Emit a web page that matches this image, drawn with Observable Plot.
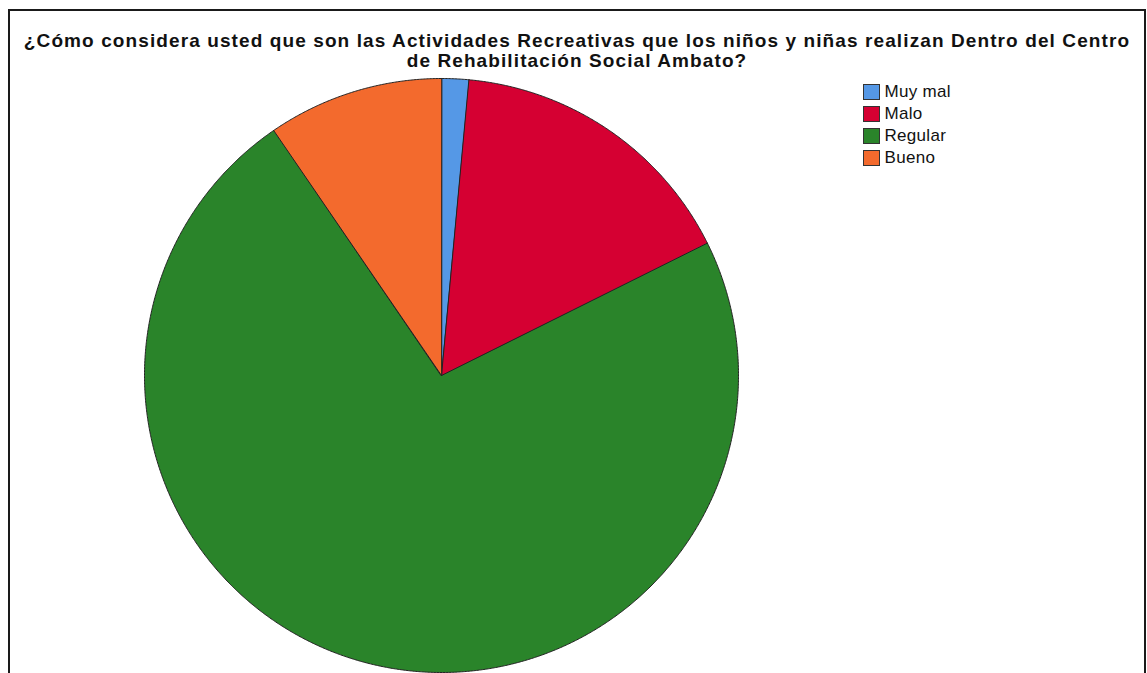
<!DOCTYPE html>
<html>
<head>
<meta charset="utf-8">
<script src="https://cdn.jsdelivr.net/npm/d3@7"></script>
<script src="https://cdn.jsdelivr.net/npm/@observablehq/plot@0.6"></script>
<style>
  html, body { margin: 0; padding: 0; background: #fff; }
  #wrap { position: relative; width: 1147px; height: 673px; overflow: hidden; font-family: "Liberation Sans", Arial, sans-serif; }
  #frame { position: absolute; left: 8px; top: 9px; width: 1138px; height: 700px; border: 2px solid #1a1a1a; box-sizing: border-box; pointer-events: none; }
  #title { position: absolute; left: 0; width: 1154px; top: 31px; text-align: center; font-weight: bold; font-size: 19px; line-height: 19.5px; letter-spacing: 1.1px; color: #111; white-space: nowrap; }
  #legend { position: absolute; left: 863px; top: 81.3px; font-size: 17px; letter-spacing: 0.3px; color: #111; }
  .item { display: flex; align-items: center; height: 21.9px; }
  .sw { width: 16.5px; height: 16px; border: 1px solid #333; box-sizing: border-box; margin-right: 5px; }
  #chart { position: absolute; left: 0; top: 0; }
</style>
</head>
<body>
<div id="wrap">
  <div id="chart"></div>
  <div id="title">¿Cómo considera usted que son las Actividades Recreativas que los niños y niñas realizan Dentro del Centro<br>de Rehabilitación Social Ambato?</div>
  <div id="legend"></div>
  <div id="frame"></div>
</div>
<script>
const categories = ["Muy mal", "Malo", "Regular", "Bueno"];
const counts = [2, 22, 99, 13];
const colors = ["#5598e6", "#d50032", "#2a842a", "#f36a2d"];

const table = categories.map((c, i) => ({category: c, value: counts[i]}));
const arcs = d3.pie().sort(null).value(d => d.value).startAngle(0).endAngle(2 * Math.PI)(table);

const pts = [];
for (const a of arcs) {
  const key = a.data.category;
  pts.push({key, x: 0, y: 0});
  const n = Math.max(4, Math.ceil((a.endAngle - a.startAngle) / 0.005));
  for (let k = 0; k <= n; k++) {
    const t = a.startAngle + (a.endAngle - a.startAngle) * k / n;
    pts.push({key, x: Math.sin(t), y: Math.cos(t)});
  }
}

const chart = Plot.plot({
  width: 1147,
  height: 673,
  margin: 0,
  x: {domain: [-1, 1], range: [144, 738], axis: null},
  y: {domain: [-1, 1], range: [672, 78], axis: null},
  color: {domain: categories, range: colors},
  marks: [
    Plot.line(pts, {x: "x", y: "y", z: "key", fill: "key", stroke: "#222", strokeWidth: 1, curve: "linear-closed"})
  ]
});
document.getElementById("chart").appendChild(chart);

const legend = document.getElementById("legend");
categories.forEach((c, i) => {
  const item = document.createElement("div");
  item.className = "item";
  item.innerHTML = `<div class="sw" style="background:${colors[i]}"></div><span>${c}</span>`;
  legend.appendChild(item);
});
</script>
</body>
</html>
